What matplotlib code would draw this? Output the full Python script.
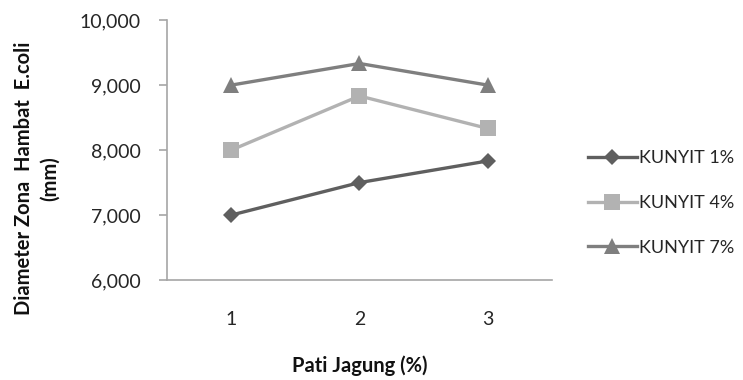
import matplotlib
matplotlib.use("Agg")
import matplotlib.pyplot as plt
from matplotlib.ticker import FuncFormatter

plt.rcParams['font.family'] = ['Lato', 'DejaVu Sans']

categories = ["1", "2", "3"]
kunyit_1 = [7.000, 7.500, 7.833]
kunyit_4 = [8.000, 8.833, 8.333]
kunyit_7 = [9.000, 9.333, 9.000]
series_names = ["KUNYIT 1%", "KUNYIT 4%", "KUNYIT 7%"]
y_ticks = [6, 7, 8, 9, 10]

fig = plt.figure(figsize=(7.43, 3.80), dpi=100)
ax = fig.add_axes([0.2248, 0.263, 0.518, 0.684])

x = list(range(1, len(categories) + 1))
styles = [
    dict(color="#5f5f5f", marker="D", markersize=8.5),
    dict(color="#b2b2b2", marker="s", markersize=11),
    dict(color="#7f7f7f", marker="^", markersize=11),
]
for vals, name, st in zip([kunyit_1, kunyit_4, kunyit_7], series_names, styles):
    ax.plot(x, vals, label=name, linewidth=2.4, markeredgewidth=0, **st)

ax.set_xlim(0.5, 3.5)
ax.set_ylim(6, 10)
ax.set_xticks(x)
ax.set_xticklabels(categories)
ax.set_yticks(y_ticks)
ax.yaxis.set_major_formatter(FuncFormatter(lambda v, p: f"{v:.3f}".replace(".", ",")))

for side in ["top", "right"]:
    ax.spines[side].set_visible(False)
for side in ["left", "bottom"]:
    ax.spines[side].set_color("#a6a6a6")
    ax.spines[side].set_linewidth(1.2)

ax.tick_params(axis="y", direction="out", length=6, width=1.2, color="#a6a6a6",
               labelsize=14, labelcolor="#262626", pad=13)
ax.tick_params(axis="x", length=0, labelsize=14, labelcolor="#262626", pad=22)

ax.set_xlabel("Pati Jagung (%)", fontsize=14.5, fontweight="bold", labelpad=20, color="#111111")
fig.text(0.05, 0.53, "Diameter Zona  Hambat  E.coli\n(mm)", rotation=90,
         ha="center", va="center", fontsize=14.5, fontweight="bold",
         color="#111111", linespacing=1.35)

leg = fig.legend(loc="center left", bbox_to_anchor=(0.781, 0.466), frameon=False,
                 fontsize=13, handlelength=2.75, handletextpad=0.1,
                 labelspacing=1.6, borderaxespad=0)
for t in leg.get_texts():
    t.set_color("#262626")

fig.savefig("out.png", dpi=100)
